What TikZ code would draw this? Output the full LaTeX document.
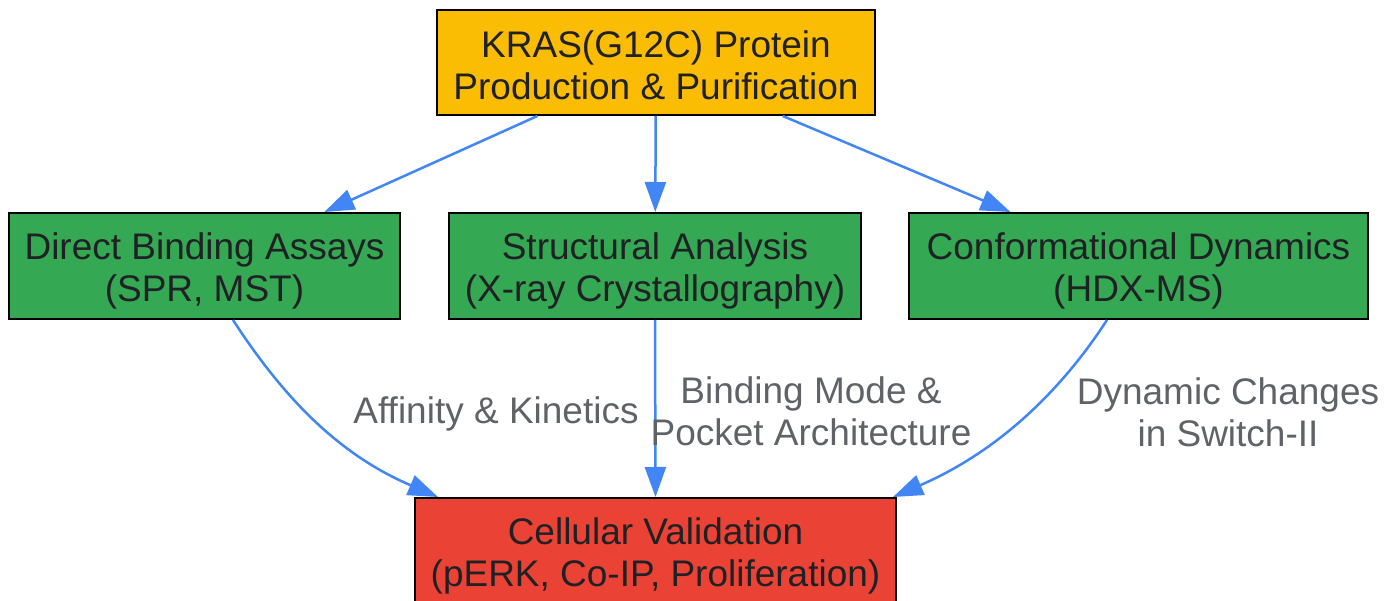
\documentclass[tikz,border=0pt]{standalone}
\usepackage{fontspec}
\setmainfont{Liberation Sans}
\usetikzlibrary{arrows.meta}
\definecolor{gyellow}{HTML}{FBBC04}
\definecolor{ggreen}{HTML}{34A853}
\definecolor{gred}{HTML}{EA4335}
\definecolor{gblue}{HTML}{4285F4}
\definecolor{ggray}{HTML}{5F6368}
\definecolor{gtext}{HTML}{202124}
\tikzset{
  box/.style={draw=black, line width=2pt, rectangle, inner sep=0pt},
  btxt/.style={align=center, inner sep=0pt, text=gtext, font=\fontsize{37}{42}\selectfont},
  conn/.style={draw=gblue, line width=2.5pt, -{Triangle[length=30pt,width=21pt]}},
  lbl/.style={align=center, text=ggray, font=\fontsize{37}{42}\selectfont, inner sep=0pt}
}
\begin{document}
\begin{tikzpicture}[x=1pt,y=-1pt]
\useasboundingbox (0,0) rectangle (1396,601);
\node[box, fill=gyellow, minimum width=438pt, minimum height=105pt,
  label={[btxt, yshift=-2.5pt]center:{KRAS(G12C) Protein\\Production \& Purification}}] (top) at (656,62.5) {};
\node[box, fill=ggreen, minimum width=391pt, minimum height=106pt,
  label={[btxt, yshift=-4.5pt]center:{Direct Binding Assays\\(SPR, MST)}}] (left) at (204.5,266) {};
\node[box, fill=ggreen, minimum width=412pt, minimum height=106pt,
  label={[btxt, yshift=-4.5pt]center:{Structural Analysis\\(X-ray Crystallography)}}] (mid) at (655,266) {};
\node[box, fill=ggreen, minimum width=459pt, minimum height=106pt,
  label={[btxt, yshift=-4.5pt]center:{Conformational Dynamics\\(HDX-MS)}}] (right) at (1138.5,266) {};
\node[box, fill=gred, minimum width=481pt, minimum height=106pt,
  label={[btxt, yshift=-5pt]center:{Cellular Validation\\(pERK, Co-IP, Proliferation)}}] (bot) at (655.5,551) {};
\draw[conn] (top) -- (left);
\draw[conn] (top) -- (mid);
\draw[conn] (top) -- (right);
\draw[conn] ([xshift=28.5pt]left.south) .. controls (285,400) and (340,455) .. ([xshift=-217.5pt]bot.north);
\draw[conn] (mid.south) -- (bot.north);
\draw[conn] ([xshift=-31.5pt]right.south) .. controls (1055,400) and (990,455) .. ([xshift=237.5pt]bot.north);
\node[lbl] (l1) at (496,414) {Affinity \& Kinetics};
\node[lbl] (l2) at (811,411) {Binding Mode \&\\Pocket Architecture};
\node[lbl] (l3) at (1228,412) {Dynamic Changes\\in Switch-II};
\end{tikzpicture}
\end{document}
